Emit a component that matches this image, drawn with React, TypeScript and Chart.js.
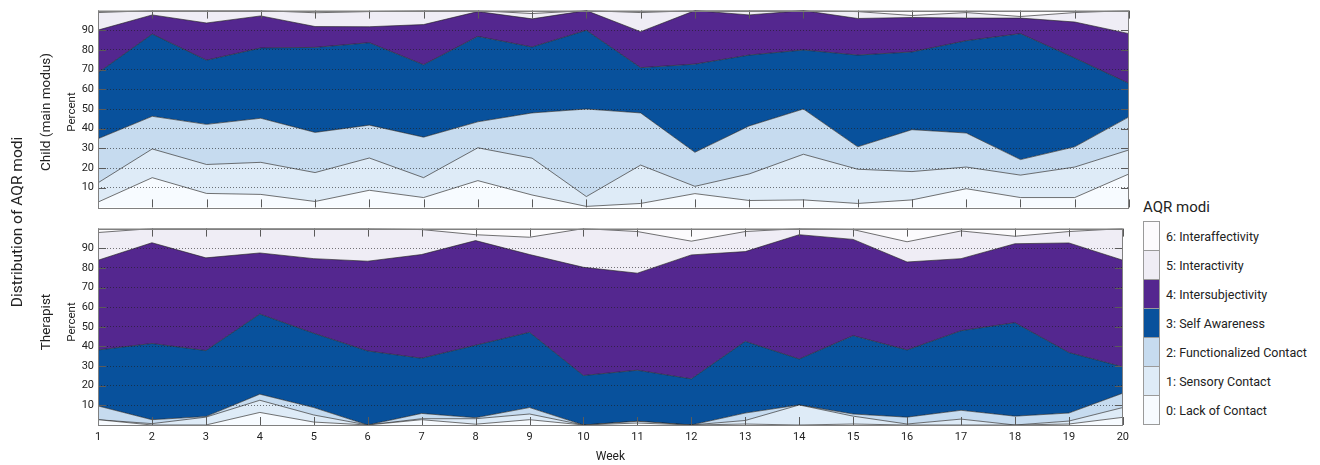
import React, { useEffect, useRef } from 'react';
import { Chart, registerables } from 'chart.js';

Chart.register(...registerables);

const weeks = ['1', '2', '3', '4', '5', '6', '7', '8', '9', '10', '11', '12', '13', '14', '15', '16', '17', '18', '19', '20'];
const categories = [
  '0: Lack of Contact',
  '1: Sensory Contact',
  '2: Functionalized Contact',
  '3: Self Awareness',
  '4: Intersubjectivity',
  '5: Interactivity',
  '6: Interaffectivity',
];
const categoryColors = ['#f7fbff', '#deebf7', '#c6dbef', '#08519c', '#54278f', '#efedf5', '#fcfbfd'];
const yTicks = [10, 20, 30, 40, 50, 60, 70, 80, 90];

// Child (main modus) – percent per category and week
const childLack = [2.7, 15.1, 7.1, 6.6, 3.0, 8.7, 5.0, 13.6, 6.3, 0.5, 2.0, 7.0, 3.5, 3.8, 2.0, 3.8, 9.5, 5.0, 5.0, 17.0];
const childSensory = [9.8, 14.6, 14.7, 16.3, 14.7, 16.4, 10.1, 16.7, 18.7, 5.0, 19.5, 3.7, 13.5, 23.2, 17.4, 14.4, 11.0, 11.4, 15.5, 12.2];
const childFunctional = [22.4, 16.6, 20.4, 22.4, 20.4, 16.7, 20.6, 13.2, 23.0, 44.5, 26.5, 17.3, 24.4, 23.0, 11.4, 21.3, 17.3, 7.9, 10.3, 16.8];
const childSelf = [33.5, 41.8, 32.6, 35.7, 43.2, 41.9, 36.8, 43.4, 33.5, 40.0, 23.0, 44.8, 36.0, 30.0, 46.6, 39.5, 46.9, 64.0, 45.1, 17.0];
const childInterSubj = [21.7, 9.7, 18.9, 16.3, 10.6, 8.1, 20.4, 12.6, 14.3, 10.0, 18.3, 27.2, 20.4, 20.0, 18.6, 17.5, 11.5, 7.9, 18.3, 25.3];
const childInteract = [8.9, 2.2, 6.3, 2.7, 7.0, 7.7, 7.1, 0.5, 2.7, 0.0, 9.7, 0.0, 2.2, 0.0, 3.5, 1.0, 2.8, 0.8, 4.8, 11.7];
const childInterAff = [1.0, 0.0, 0.0, 0.0, 1.1, 0.5, 0.0, 0.0, 1.5, 0.0, 1.0, 0.0, 0.0, 0.0, 0.5, 2.5, 1.0, 3.0, 1.0, 0.0];

// Therapist – percent per category and week
const therLack = [2.7, 0.0, 0.0, 6.4, 1.5, 0.0, 2.7, 0.4, 2.7, 0.0, 1.0, 0.0, 0.5, 0.0, 0.5, 0.0, 0.0, 0.0, 0.5, 3.9];
const therSensory = [0.0, 0.7, 4.0, 6.2, 3.6, 0.0, 0.5, 2.8, 2.9, 0.0, 0.9, 0.0, 1.8, 10.2, 4.0, 0.5, 3.0, 0.0, 1.5, 5.0];
const therFunctional = [7.0, 2.0, 0.3, 3.1, 3.8, 0.0, 2.7, 0.5, 3.3, 0.0, 0.0, 0.0, 3.8, 0.0, 1.1, 3.5, 4.5, 4.5, 4.1, 7.3];
const therSelf = [28.5, 38.8, 33.6, 40.8, 37.8, 37.7, 28.1, 36.9, 38.3, 25.2, 26.0, 23.5, 36.5, 23.4, 39.9, 34.2, 40.5, 47.6, 30.8, 13.4];
const therInterSubj = [45.7, 51.3, 47.2, 31.1, 38.0, 45.7, 52.8, 53.3, 39.6, 55.1, 49.4, 63.1, 45.7, 63.3, 49.0, 44.8, 36.7, 40.2, 55.8, 54.3];
const therInteract = [14.1, 7.2, 14.9, 12.4, 15.3, 16.6, 12.7, 3.0, 8.8, 19.7, 21.2, 7.0, 10.2, 3.1, 5.0, 10.3, 14.1, 3.8, 5.8, 16.1];
const therInterAff = [2.0, 0.0, 0.0, 0.0, 0.0, 0.0, 0.5, 3.1, 4.4, 0.0, 1.5, 6.4, 1.5, 0.0, 0.5, 6.7, 1.2, 3.9, 1.5, 0.0];

const childSeries = [childLack, childSensory, childFunctional, childSelf, childInterSubj, childInteract, childInterAff];
const therapistSeries = [therLack, therSensory, therFunctional, therSelf, therInterSubj, therInteract, therInterAff];

const FONT = 'Roboto, "Noto Sans", sans-serif';

const frameTicks = {
  id: 'frameTicks',
  afterDraw(chart: any) {
    const { ctx, chartArea: a, scales } = chart;
    ctx.save();
    ctx.lineWidth = 1;
    ctx.strokeStyle = '#5a5a5a';
    ctx.beginPath();
    weeks.forEach((_, i) => {
      const x = Math.round(scales.x.getPixelForValue(i)) + 0.5;
      ctx.moveTo(x, a.top);
      ctx.lineTo(x, a.top + 8);
      ctx.moveTo(x, a.bottom);
      ctx.lineTo(x, a.bottom - 8);
    });
    yTicks.forEach((v) => {
      const y = Math.round(scales.y.getPixelForValue(v)) + 0.5;
      ctx.moveTo(a.left, y);
      ctx.lineTo(a.left + 8, y);
      ctx.moveTo(a.right, y);
      ctx.lineTo(a.right - 8, y);
    });
    ctx.stroke();
    ctx.strokeStyle = '#808080';
    ctx.strokeRect(Math.round(a.left) + 0.5, Math.round(a.top) + 0.5, Math.round(a.right - a.left) - 1, Math.round(a.bottom - a.top));
    ctx.restore();
  },
};

function Panel(props: { series: number[][]; showX: boolean; top: number; height: number; padTop: number; padBottom: number }) {
  const ref = useRef<HTMLCanvasElement | null>(null);
  useEffect(() => {
    if (!ref.current) return;
    const chart = new Chart(ref.current, {
      type: 'line',
      data: {
        labels: weeks,
        datasets: props.series.map((d, i) => ({
          label: categories[i],
          data: d,
          backgroundColor: categoryColors[i],
          borderColor: 'rgba(35,35,35,0.8)',
          borderWidth: 0.8,
          pointRadius: 0,
          pointHoverRadius: 0,
          tension: 0,
          fill: i === 0 ? 'origin' : '-1',
        })),
      },
      options: {
        responsive: false,
        animation: false,
        events: [],
        layout: { padding: { left: 0, right: 6, top: props.padTop, bottom: props.padBottom } },
        plugins: { legend: { display: false }, tooltip: { enabled: false }, title: { display: false } },
        scales: {
          x: {
            type: 'category',
            offset: false,
            grid: { display: false, drawTicks: false },
            border: { display: false },
            ticks: {
              display: props.showX,
              autoSkip: false,
              maxRotation: 0,
              padding: 6,
              color: '#222',
              font: { family: FONT, size: 11 },
            },
            title: {
              display: props.showX,
              text: 'Week',
              color: '#222',
              font: { family: FONT, size: 12 },
              padding: { top: 0, bottom: 1 },
            },
            afterFit: (s: any) => {
              s.height = props.showX ? 40 : 0;
            },
          },
          y: {
            stacked: true,
            min: 0,
            max: 100,
            grid: {
              z: 1,
              drawTicks: false,
              lineWidth: 1,
              color: (c: any) => (c.tick && (c.tick.value === 0 || c.tick.value === 100) ? 'rgba(0,0,0,0)' : 'rgba(30,30,30,0.6)'),
            },
            border: { display: false, dash: [1, 2] },
            ticks: {
              stepSize: 10,
              autoSkip: false,
              padding: 4,
              color: '#222',
              font: { family: FONT, size: 11 },
              callback: (v: any) => (v > 0 && v < 100 ? String(v) : ''),
            },
            afterFit: (s: any) => {
              s.width = 98;
            },
          },
        },
      },
      plugins: [frameTicks],
    } as any);
    return () => chart.destroy();
  }, []);
  return (
    <canvas
      ref={ref}
      width={1135}
      height={props.height}
      style={{ position: 'absolute', left: 0, top: props.top, width: 1135, height: props.height }}
    />
  );
}

function VLabel(props: { text: string; x: number; y: number; size: number }) {
  return (
    <div
      style={{
        position: 'absolute',
        left: props.x,
        top: props.y,
        transform: 'translate(-50%, -50%) rotate(-90deg)',
        whiteSpace: 'nowrap',
        fontFamily: FONT,
        fontSize: props.size,
        lineHeight: 1,
        color: '#222',
      }}
    >
      {props.text}
    </div>
  );
}

export default function App() {
  const legendOrder = [6, 5, 4, 3, 2, 1, 0];
  return (
    <div style={{ position: 'absolute', left: 0, top: 0, width: 1320, height: 465, background: '#fff', overflow: 'hidden' }}>
      <Panel series={childSeries} showX={false} top={0} height={218} padTop={10} padBottom={3.5} />
      <Panel series={therapistSeries} showX={true} top={218} height={247} padTop={2} padBottom={0} />
      <VLabel text="Distribution of AQR modi" x={18} y={222} size={15.5} />
      <VLabel text="Child (main modus)" x={46} y={112} size={13.5} />
      <VLabel text="Therapist" x={46} y={322} size={13.5} />
      <VLabel text="Percent" x={72} y={112} size={11.5} />
      <VLabel text="Percent" x={72} y={322} size={11.5} />
      <div
        style={{
          position: 'absolute',
          left: 1143,
          top: 200,
          fontFamily: FONT,
          fontSize: 15,
          lineHeight: 1,
          color: '#222',
          whiteSpace: 'nowrap',
        }}
      >
        AQR modi
      </div>
      {legendOrder.map((ci, k) => (
        <React.Fragment key={ci}>
          <div
            style={{
              position: 'absolute',
              left: 1143,
              top: 221 + k * 29,
              width: 17,
              height: 30,
              boxSizing: 'border-box',
              border: '1px solid #9a9a9a',
              background: categoryColors[ci],
            }}
          />
          <div
            style={{
              position: 'absolute',
              left: 1166,
              top: 221 + k * 29,
              height: 30,
              display: 'flex',
              alignItems: 'center',
              fontFamily: FONT,
              fontSize: 12.5,
              color: '#222',
              whiteSpace: 'nowrap',
            }}
          >
            {categories[ci]}
          </div>
        </React.Fragment>
      ))}
    </div>
  );
}
